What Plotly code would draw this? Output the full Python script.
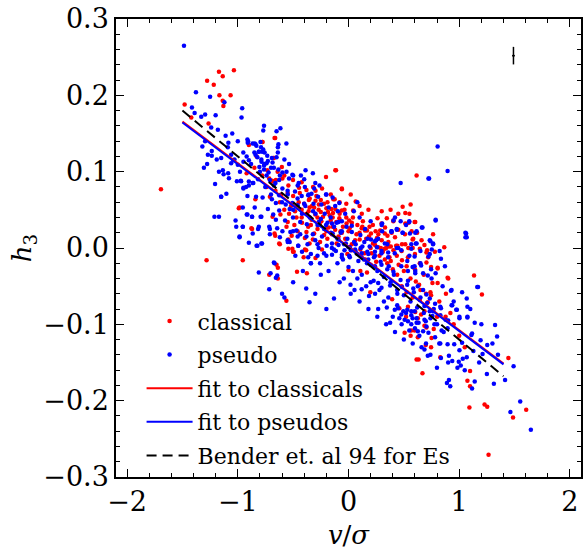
import plotly.graph_objects as go

# ---------------- data ----------------
classical_x = [-1.694,-1.48,-1.42,-1.264,-1.277,-1.217,-1.17,-1.136,-1.035,-1.166,-1.065,-1.136,-1.13,-0.779,-0.83,-0.69,-0.668,-0.68,
 -0.662,-0.776,-0.9,-0.674,-0.602,-0.734,-0.119,-0.203,-0.716,-0.686,-0.656,-0.597,-0.501,-0.543,-0.447,-0.423,-0.06,-0.298,-0.239,-0.608,-0.71,-0.841,
 -0.358,-0.298,-0.268,-0.31,-0.221,-0.125,0.065,0.042,-0.036,-0.119,-0.185,-0.25,-0.352,-0.376,-0.423,-0.483,-0.686,-0.615,-0.537,-0.423,-0.334,-0.28,
 -0.245,-0.161,-0.083,-0.018,0.03,0.125,0.167,0.245,0.328,0.262,0.346,0.072,0.0,-0.072,-0.143,-0.209,-0.28,-0.364,-0.489,-0.549,-0.668,-0.626,-0.513,
 -0.394,-0.322,-0.257,-0.191,-0.107,-0.03,0.101,0.185,0.221,0.292,0.364,0.406,0.43,0.28,0.328,0.382,0.209,0.143,0.03,-0.394,-0.507,-0.543,-0.298,
 -0.405,-0.501,-0.955,-0.877,-0.984,
 -0.113,0.615,-0.06,-0.137,0.489,0.561,0.513,-0.155,-0.06,-0.143,0.006,0.298,0.406,0.513,0.603,0.119,0.149,0.203,0.257,0.352,0.268,0.328,0.382,
 0.441,0.483,0.585,0.644,0.686,0.704,0.865,0.37,0.436,0.483,0.537,0.453,0.525,0.644,0.746,0.805,0.107,0.167,0.0,0.608,0.638,0.758,0.805,0.901,
 0.74,0.716,0.394,0.459,0.537,0.603,0.686,0.626,0.686,0.567,0.77,1.134,1.205,0.197,0.107,
 0.895,0.877,0.615,0.633,0.668,0.829,0.746,0.698,1.098,1.074,1.098,1.444,1.092,1.229,1.253,1.605,1.486,1.265,0.626,0.507,0.561,0.597,0.704,0.656,
 0.644,0.746,0.525,
 -0.991,-0.871,-1.282,-0.638,-0.65,-0.716,-0.638,-0.465,-0.376,-0.561,-0.662,-0.62,-0.543,-0.495,-0.382,-0.352,
 0.543,0.597,0.286,0.764,0.579,0.513,0.71,0.704,0.805,0.405]
classical_y = [0.077,0.188,0.171,0.163,0.219,0.214,0.231,0.225,0.233,0.200,0.200,0.193,0.186,0.139,0.120,0.088,0.144,0.118,
 0.144,0.139,0.135,0.118,0.106,0.102,0.102,0.093,0.091,0.087,0.089,0.091,0.089,0.082,0.079,0.086,0.078,0.075,0.078,0.070,0.067,0.064,
 0.063,0.062,0.057,0.053,0.058,0.064,0.061,0.049,0.050,0.051,0.047,0.047,0.053,0.045,0.050,0.048,0.041,0.044,0.045,0.040,0.037,0.040,
 0.035,0.036,0.039,0.032,0.033,0.028,0.023,0.022,0.019,0.039,0.039,0.018,0.022,0.022,0.028,0.025,0.025,0.028,0.030,0.034,0.019,0.006,0.016,
 0.013,0.011,0.008,0.012,0.006,0.012,0.011,0.015,0.006,0.000,0.002,-0.003,0.003,-0.010,-0.015,-0.017,-0.007,-0.007,-0.003,-0.002,-0.001,0.011,-0.013,
 -0.012,-0.005,-0.016,0.026,0.053,
 0.102,0.095,0.077,0.064,0.054,0.057,0.046,0.051,0.049,0.040,0.036,0.032,0.036,0.032,0.034,0.026,0.023,0.019,0.013,0.016,0.001,-0.001,0.002,
 0.003,0.005,0.012,-0.001,0.004,-0.006,0.001,-0.012,-0.010,-0.016,-0.012,-0.022,-0.024,-0.020,-0.025,-0.026,-0.030,-0.032,-0.029,-0.044,-0.048,-0.046,-0.046,-0.040,
 -0.058,-0.071,-0.067,-0.079,-0.077,-0.084,-0.083,-0.092,-0.102,-0.108,-0.106,-0.036,-0.061,-0.058,-0.002,
 -0.039,-0.090,-0.146,-0.146,-0.164,-0.143,-0.130,-0.127,-0.161,-0.174,-0.181,-0.144,-0.209,-0.205,-0.208,-0.212,-0.222,-0.271,-0.117,-0.111,-0.115,-0.108,-0.104,-0.087,
 -0.068,-0.062,-0.058,
 0.052,0.025,-0.016,-0.026,-0.022,-0.035,-0.040,-0.031,-0.033,-0.069,0.016,0.005,-0.001,-0.005,-0.003,0.006,
 0.033,0.034,0.023,0.018,0.011,0.005,-0.003,-0.019,-0.027,0.035]

# additional classical points in the crowded core
classical_core_x = [-0.45,-0.40,-0.36,-0.33,-0.30,-0.27,-0.23,-0.20,-0.17,-0.14,-0.11,-0.08,-0.05,-0.02,0.01,0.04,-0.42,-0.38,-0.34,-0.31,
 -0.26,-0.22,-0.18,-0.15,-0.12,-0.09,-0.06,-0.47,-0.52,-0.56,-0.58,-0.46,-0.29,-0.25,-0.19,-0.16,0.08,0.10,0.13,0.16,0.19,0.22,0.24,0.27,0.30,
 0.33,0.36,0.39,0.42,0.45,0.48,0.51,0.54,0.57,0.60,0.62,0.66,0.31,0.35,0.40,0.44,0.50,0.56,0.60,0.68,0.72,0.78,0.25,0.20,0.15,0.45,0.38,0.30,
 0.55,0.12,-0.62,-0.66,-0.55,-0.50,-0.44,-0.38,-0.74,-0.78,-0.64,-0.58,-0.85,-0.92,0.70,0.65,0.58,0.52,0.48,0.82,0.88,0.92,0.80,0.75,0.95,1.0,
 1.05,0.58,0.34,0.03,-0.01,0.06,-0.24,-0.20,-0.35,-0.32,-0.08,-0.02,0.02,0.10,0.18]
classical_core_y = [0.060,0.058,0.048,0.055,0.044,0.050,0.041,0.052,0.043,0.046,0.034,0.045,0.028,0.040,0.026,0.040,0.033,0.021,0.030,0.019,
 0.031,0.017,0.027,0.018,0.024,0.015,0.020,0.040,0.055,0.028,0.050,0.022,0.068,0.063,0.060,0.070,0.030,0.020,0.035,0.012,0.028,0.030,0.004,0.018,0.010,
 0.027,0.008,0.020,0.014,0.024,-0.004,0.018,0.000,0.022,-0.008,0.020,0.010,-0.005,-0.020,-0.028,-0.035,-0.030,-0.040,-0.028,-0.035,-0.012,-0.005,-0.018,0.000,-0.015,0.045,0.050,0.048,
 0.045,0.045,0.060,0.075,0.072,0.068,0.072,0.076,0.080,0.095,0.100,0.095,0.105,0.098,-0.060,-0.055,-0.065,-0.090,-0.050,-0.070,-0.060,-0.085,-0.090,-0.118,-0.100,-0.115,
 -0.130,0.000,0.000,0.005,-0.008,0.010,-0.002,0.022,0.065,0.080,0.060,0.058,0.070,0.055,0.050]

pseudo_x = [-1.486,-1.378,-1.25,-1.121,-1.414,-1.39,-0.96,-0.966,-1.295,-1.33,-1.2,-1.24,-1.18,-1.11,-1.295,-1.32,-1.085,-1.09,-1.235,-1.27,-1.235,
 -1.15,-1.19,-1.06,-1.04,-1.277,-1.306,-1.17,-1.135,-1.128,-1.087,-1.08,-1.205,-1.008,-0.97,-1.103,-1.15,-1.0,-1.03,-1.06,-0.949,-0.925,-0.9,-0.86,
 -0.913,-0.91,-0.866,-0.84,-0.763,-0.77,-0.795,-0.81,-0.78,-0.84,-0.786,-0.763,-0.9,
 -0.615,-0.65,-0.907,-0.847,-0.832,-0.79,-0.633,-0.561,-0.638,-0.77,-0.81,-0.758,-0.734,-0.692,-0.638,-0.65,-0.823,-0.787,-0.579,-0.537,-0.728,-0.686,
 -0.949,-0.74,-0.805,-0.763,-0.674,-0.633,-0.722,-0.597,-0.388,-0.322,-0.507,-0.43,-0.537,-0.626,-0.71,-0.817,-0.865,-0.949,-0.9,-0.752,-0.674,-0.597,
 -0.459,-0.394,-0.262,-0.31,-0.483,-0.549,-0.626,-0.913,-0.835,-0.776,-0.692,-0.423,-0.364,-0.203,-0.143,-0.656,-0.567,-0.507,-0.459,-0.4,-0.316,-0.245,
 -0.179,-0.083,-0.847,-0.728,-0.626,-0.531,-0.919,-0.871,-0.787,-0.68,-0.656,-0.573,-0.501,-0.436,-0.376,-0.268,-0.203,-0.107,-0.06,-0.716,-0.644,-0.597,
 -0.525,-0.471,-0.955,-0.81,-0.865,-0.71,-0.62,-0.436,-0.322,-0.239,-0.143,-0.09,-0.024,0.012,0.065,0.125,0.065,-0.036,-0.114,-0.197,-0.28,-0.37,-0.454,
 -0.549,-0.787,-0.83,-0.34,-0.28,-0.221,-0.149,-0.06,0.006,0.119,0.179,0.239,0.298,0.358,0.418,0.191,0.257,0.328,0.268,0.203,0.143,0.304,0.388,0.406,
 -0.674,-0.34,-0.257,-0.973,-0.955,-0.984,-0.9,-0.298,-0.215,-0.161,-0.334,-0.275,
 0.895,0.471,0.722,0.048,-0.096,-0.149,-0.09,-0.018,0.03,-0.06,0.03,0.107,0.173,0.239,0.388,0.436,0.471,0.549,0.615,0.555,0.489,0.668,0.787,0.734,
 0.764,0.615,0.567,0.477,0.436,0.358,0.298,0.239,0.179,0.119,0.06,0.0,-0.09,-0.149,-0.131,-0.06,0.012,0.089,0.167,0.239,0.298,0.364,0.406,0.477,
 0.531,0.597,0.603,0.674,0.716,0.722,0.835,0.752,0.871,0.931,1.026,1.062,1.068,1.17,-0.131,-0.042,0.018,0.054,0.119,0.185,0.227,0.268,0.298,0.376,
 0.441,0.483,0.537,0.585,0.626,0.674,0.704,0.734,0.782,0.764,0.835,0.937,0.979,1.002,0.268,0.346,0.418,0.495,0.567,0.459,0.376,0.537,0.579,0.615,
 0.686,0.704,0.626,0.549,0.877,1.116,1.074,
 0.925,1.163,1.068,0.931,0.973,1.074,0.829,1.074,1.002,1.14,1.324,1.342,1.193,1.11,1.026,0.955,0.895,0.829,1.002,1.128,1.211,1.253,0.907,0.835,
 1.032,1.068,0.937,0.996,1.014,0.799,0.984,1.491,1.414,1.313,1.14,1.116,0.889,0.907,0.919,1.551,1.462,1.647,0.716,0.686,0.782,0.722,0.841,0.895,
 0.776,0.698,0.615,0.567,0.531,0.597,0.686,0.734,0.758,0.633,0.674,0.567,0.507,0.477,0.447,
 -1.15,-1.211,-1.17,-1.02,-1.014,-0.955,-0.913,-0.871,-0.817,-0.794,-0.984,-0.823,-0.781,-0.71,-0.668,-0.644,-0.656,-0.81,-0.704,-0.716,-0.579,
 -0.382,-0.352,-0.412,-0.34,-0.531,-0.454,-0.364,-0.459,-0.501,
 0.805,0.728,0.787,1.056,1.056,0.823,0.734,0.764,0.662,0.603,0.549,0.489,0.436,0.388,0.304,0.567,0.608,0.65,0.74,0.787,0.746,0.597,0.656,0.579,
 0.603,0.537]
pseudo_y = [0.265,0.204,0.198,0.191,0.184,0.177,0.183,0.171,0.175,0.172,0.174,0.158,0.155,0.147,0.140,0.133,0.138,0.132,0.127,0.122,0.121,
 0.118,0.116,0.122,0.115,0.110,0.105,0.100,0.102,0.0965,0.098,0.0915,0.084,0.0876,0.0876,0.071,0.067,0.109,0.116,0.111,0.078,0.080,0.087,0.085,
 0.142,0.138,0.137,0.136,0.160,0.154,0.139,0.126,0.126,0.122,0.113,0.108,0.115,
 0.157,0.153,0.140,0.137,0.134,0.132,0.136,0.137,0.132,0.129,0.126,0.125,0.121,0.118,0.125,0.119,0.119,0.116,0.116,0.110,0.114,0.112,
 0.113,0.111,0.106,0.103,0.105,0.103,0.099,0.099,0.102,0.098,0.096,0.095,0.091,0.089,0.089,0.090,0.085,0.079,0.082,0.080,0.082,0.078,
 0.082,0.080,0.082,0.078,0.074,0.070,0.069,0.068,0.067,0.066,0.064,0.068,0.069,0.070,0.066,0.059,0.057,0.059,0.056,0.058,0.058,0.057,
 0.053,0.059,0.053,0.051,0.049,0.051,0.044,0.041,0.041,0.044,0.037,0.036,0.040,0.034,0.031,0.034,0.030,0.033,0.035,0.028,0.026,0.022,
 0.021,0.023,0.028,0.028,0.019,0.018,0.014,0.018,0.018,0.015,0.019,0.011,0.006,0.001,0.005,0.002,-0.005,-0.003,-0.004,0.003,0.005,0.005,0.003,
 0.008,0.006,0.003,-0.008,-0.010,-0.007,-0.009,-0.012,-0.010,-0.012,-0.015,-0.010,-0.007,-0.012,-0.007,0.002,0.001,0.006,0.012,0.011,0.008,0.022,0.021,0.036,
 -0.019,-0.020,-0.020,0.088,0.053,0.015,0.007,0.045,0.045,0.040,0.071,0.067,
 0.101,0.085,0.091,0.048,0.048,0.032,0.034,0.028,0.029,0.022,0.021,0.017,0.012,0.009,0.022,0.025,0.035,0.035,0.022,0.019,0.020,0.027,0.037,0.010,
 0.005,0.006,-0.001,-0.003,0.000,-0.006,-0.004,-0.005,-0.008,-0.007,-0.002,0.001,0.004,0.006,-0.002,-0.009,-0.012,-0.017,-0.020,-0.024,-0.022,-0.024,-0.031,-0.024,
 -0.017,-0.024,-0.033,-0.033,-0.036,-0.011,-0.014,-0.002,-0.024,-0.055,-0.058,0.019,0.014,-0.051,-0.066,-0.040,-0.048,-0.055,-0.054,-0.063,-0.043,-0.046,-0.052,-0.049,
 -0.060,-0.051,-0.043,-0.053,-0.050,-0.055,-0.061,-0.066,-0.073,-0.083,-0.079,-0.075,-0.081,-0.090,-0.080,-0.078,-0.081,-0.083,-0.083,-0.092,-0.098,-0.096,-0.092,-0.098,
 -0.094,-0.103,-0.109,-0.108,-0.094,-0.112,-0.090,
 -0.056,-0.051,-0.066,-0.075,-0.081,-0.077,-0.077,-0.091,-0.092,-0.098,-0.101,-0.116,-0.121,-0.114,-0.124,-0.126,-0.126,-0.125,-0.134,-0.135,-0.139,-0.127,-0.141,-0.144,
 -0.145,-0.143,-0.148,-0.149,-0.154,-0.157,-0.157,-0.155,-0.173,-0.178,-0.175,-0.184,-0.177,-0.173,-0.181,-0.201,-0.215,-0.238,-0.141,-0.133,-0.117,-0.111,-0.108,-0.105,
 -0.100,-0.096,-0.092,-0.088,-0.081,-0.083,-0.076,-0.083,-0.089,-0.098,-0.109,-0.100,-0.094,-0.087,-0.079,
 0.067,0.041,0.041,0.036,0.028,0.028,0.044,0.041,0.025,0.041,0.014,0.003,0.006,0.025,-0.020,-0.036,-0.039,-0.032,-0.033,-0.054,-0.065,
 -0.053,-0.071,-0.030,-0.020,0.008,0.003,-0.012,0.015,0.022,
 0.133,0.091,0.036,0.020,0.014,-0.004,-0.008,0.006,0.027,0.020,0.034,0.020,0.024,0.022,0.032,0.005,0.006,-0.004,0.009,-0.033,-0.028,-0.011,-0.023,-0.025,
 -0.030,-0.030]

# additional pseudo points in the crowded core
pseudo_core_x = [-0.60,-0.55,-0.50,-0.46,-0.42,-0.39,-0.35,-0.32,-0.28,-0.25,-0.22,-0.19,-0.16,-0.13,-0.10,-0.07,-0.04,-0.01,0.02,0.05,0.08,0.11,
 0.14,0.17,0.20,0.23,0.26,0.29,0.32,0.35,0.38,0.41,0.44,0.47,0.50,0.53,0.56,0.59,0.62,0.65,0.68,0.71,0.74,0.77,0.80,0.83,0.86,0.90,-0.30,-0.27,
 -0.20,-0.15,-0.10,-0.05,0.00,0.04,0.08,0.12,0.16,0.20,0.24,0.28,0.32,0.36,0.40,0.44,0.48,0.52,0.60,0.64,0.70,-0.70,-0.66,-0.62,-0.74,-0.70,-0.88,
 -0.95,-1.0,-1.05,-0.98,-0.92,-0.85,-0.80,-0.76,-0.56,-0.50,-0.45,-0.40,-0.36,-0.30,-0.20,-0.12,-0.03,0.10,0.20,0.30,0.42,0.52,-0.55,-0.48,-0.42,
 -0.38,-0.25,-0.18,-0.08,0.02,0.10,0.18,0.26,0.34,0.42,0.50,0.58,0.66,0.74,0.82,0.90,1.05,1.18,1.25,-0.60,-0.50,-0.30,-0.20,0.08,0.15,0.25,0.35,
 0.45,0.55,0.65,0.75,0.85,0.95,1.10,1.20,1.30,1.35]
pseudo_core_y = [0.060,0.075,0.050,0.065,0.045,0.055,0.040,0.048,0.030,0.038,0.025,0.033,0.020,0.028,0.012,0.020,0.005,0.012,-0.003,0.008,-0.008,0.000,
 -0.015,-0.005,-0.022,-0.012,-0.030,-0.018,-0.038,-0.028,-0.045,-0.035,-0.055,-0.042,-0.062,-0.048,-0.070,-0.058,-0.078,-0.065,-0.085,-0.072,-0.092,-0.080,-0.100,-0.088,-0.110,-0.095,0.010,0.000,
 -0.010,0.000,-0.020,-0.015,-0.025,-0.030,-0.040,-0.035,-0.050,-0.045,-0.060,-0.055,-0.070,-0.065,-0.090,-0.075,-0.100,-0.085,-0.105,-0.115,-0.125,0.070,0.085,0.095,0.095,0.105,0.110,
 0.125,0.140,0.150,0.100,0.120,0.125,0.100,0.110,0.100,0.095,0.085,0.090,0.070,0.085,0.070,0.055,0.045,0.040,0.035,0.030,0.040,0.030,0.010,-0.010,-0.005,
 0.015,-0.035,-0.030,-0.045,-0.060,-0.070,-0.080,-0.090,-0.100,-0.110,-0.120,-0.125,-0.130,-0.140,-0.125,-0.150,-0.160,-0.150,-0.165,-0.060,-0.045,-0.060,-0.080,0.060,0.025,0.010,0.005,
 0.000,-0.010,-0.020,-0.040,-0.050,-0.070,-0.080,-0.100,-0.125,-0.140]

# fitted relations
fit_x = [-1.5, 1.4]
fit_classical_y = [0.1655, -0.1515]
fit_pseudo_y = [0.1645, -0.1525]
bender_x = [-1.5, 1.4]
bender_y = [0.180, -0.168]

# typical error bar
err_x = [1.49]
err_y = [0.252]
err_dx = [0.012]
err_dy = [0.0115]

FONT = "DejaVu Serif"

fig = go.Figure()
fig.add_trace(go.Scatter(x=classical_x + classical_core_x, y=classical_y + classical_core_y, mode="markers",
                         name="classical", legendgroup="a",
                         marker=dict(color="#ff0000", size=4.5, line=dict(width=0))))
fig.add_trace(go.Scatter(x=pseudo_x + pseudo_core_x, y=pseudo_y + pseudo_core_y, mode="markers",
                         name="pseudo", legendgroup="b",
                         marker=dict(color="#0000ff", size=4.5, line=dict(width=0))))
fig.add_trace(go.Scatter(x=fit_x, y=fit_classical_y, mode="lines", name="fit to classicals", legendgroup="c",
                         line=dict(color="#ff0000", width=2)))
fig.add_trace(go.Scatter(x=fit_x, y=fit_pseudo_y, mode="lines", name="fit to pseudos", legendgroup="d",
                         line=dict(color="#0000ff", width=2)))
fig.add_trace(go.Scatter(x=bender_x, y=bender_y, mode="lines", name="Bender et. al 94 for Es", legendgroup="e",
                         line=dict(color="black", width=2, dash="10px,6px")))
fig.add_trace(go.Scatter(x=err_x, y=err_y, mode="markers", showlegend=False,
                         marker=dict(color="black", size=2),
                         error_y=dict(type="data", array=err_dy, color="black", thickness=1.5, width=0),
                         error_x=dict(type="data", array=err_dx, color="black", thickness=1.5, width=0)))

axis_common = dict(showgrid=False, zeroline=False, showline=True, linecolor="black", linewidth=1.5,
                   mirror="allticks", ticks="inside", ticklen=8, tickwidth=1.2, tickcolor="black",
                   tickfont=dict(family=FONT, size=27, color="black"))
fig.update_xaxes(range=[-2.1, 2.1], dtick=1, tick0=0,
                 minor=dict(dtick=0.2, ticks="inside", ticklen=4, tickcolor="black", tickwidth=1),
                 title=dict(text="<i>v</i>/<i>σ</i>", font=dict(family=FONT, size=26, color="black"), standoff=12),
                 **axis_common)
fig.update_yaxes(range=[-0.3, 0.3], dtick=0.1, tick0=0, tickformat=".1f",
                 minor=dict(dtick=0.02, ticks="inside", ticklen=4, tickcolor="black", tickwidth=1),
                 title=dict(text="<i>h</i><sub>3</sub>", font=dict(family=FONT, size=26, color="black"), standoff=4),
                 **axis_common)

fig.update_layout(
    width=586, height=550,
    margin=dict(l=116, r=3, t=17, b=64),
    plot_bgcolor="white", paper_bgcolor="white",
    font=dict(family=FONT, color="black"),
    legend=dict(x=0.055, y=0.386, xanchor="left", yanchor="top", bgcolor="rgba(0,0,0,0)",
                font=dict(family=FONT, size=22, color="black"), itemwidth=46,
                tracegroupgap=2, traceorder="grouped"),
)

fig.write_html("out.html", config={"displayModeBar": False},
               post_script="document.body.style.margin='0';")
